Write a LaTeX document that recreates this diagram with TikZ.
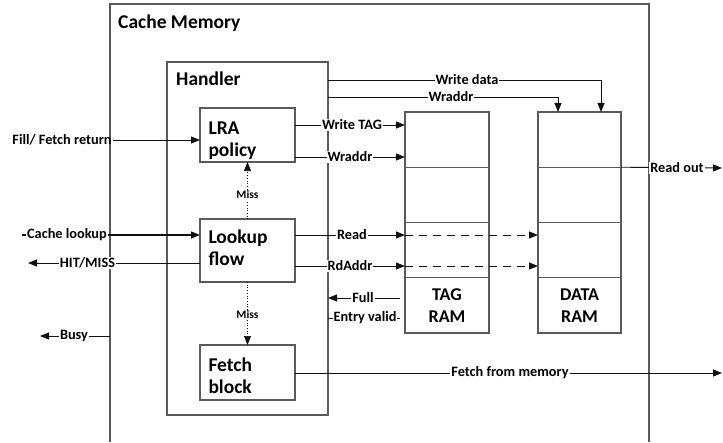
\documentclass[tikz,border=0pt]{standalone}
\usepackage{fontspec}
\setmainfont{Carlito}
\usetikzlibrary{arrows.meta}
\definecolor{boxgray}{HTML}{5A5A5A}
\definecolor{inkc}{HTML}{111111}
\begin{document}
\begin{tikzpicture}[x=1pt,y=-1pt,
  box/.style={draw=boxgray, line width=1.1pt, inner sep=0pt, outer sep=0pt},
  tcell/.style={box, minimum width=84pt, minimum height=55.25pt},
  dcell/.style={box, minimum width=83pt, minimum height=55.25pt},
  blk/.style={box, minimum width=95pt},
  btxt/.style={inner sep=0pt, text width=78pt, align=left,
              font=\fontsize{19.5}{22}\selectfont\bfseries},
  ttl/.style={font=\fontsize{19.5}{22}\selectfont\bfseries, anchor=base west, inner sep=0pt},
  lbl/.style={font=\fontsize{14.3}{16}\selectfont\bfseries, fill=white, inner sep=1pt},
  mlbl/.style={font=\fontsize{11.5}{13}\selectfont\bfseries, fill=white, inner sep=1pt},
  wire/.style={draw=inkc, line width=0.9pt},
  arr/.style={wire, -{Triangle[length=9pt,width=7pt]}},
  darr/.style={arr, dash pattern=on 8pt off 6pt},
  marr/.style={draw=inkc, line width=0.7pt, dotted, -{Triangle[length=9pt,width=7pt]}}
]
\useasboundingbox (0,0) rectangle (723,442);

% outer cache memory frame (open at the bottom)
\coordinate (cmTL) at (110,4);
\coordinate (cmTR) at (649,4);
\draw[box] (110,442) -- (cmTL) -- (cmTR) -- (649,442);
\node[ttl] (cmt) at (118,28.5) {Cache Memory};

% handler and its blocks
\node[box, minimum width=161pt, minimum height=353pt] (handler) at (247.5,238.5) {};
\node[ttl] (ht) at (176,85) {Handler};
\node[blk, minimum height=54pt] (lra) at (247.5,135) {};
\node[blk, minimum height=63pt] (lookup) at (247.5,250.5) {};
\node[blk, minimum height=55pt] (fetch) at (247.5,372.5) {};
\node[btxt] (lraT) at ([yshift=-6pt]lra.center) {LRA\\policy};
\node[btxt] (lookupT) at ([yshift=3pt]lookup.center) {Lookup\\flow};
\node[btxt] (fetchT) at ([yshift=-3pt]fetch.center) {Fetch\\block};

% TAG RAM column
\node[tcell] (tag1) at (447,139.6) {};
\node[tcell] (tag2) at (447,194.9) {};
\node[tcell] (tag3) at (447,250.1) {};
\node[tcell, align=center, font=\fontsize{18}{22}\selectfont\bfseries] (tag4) at (447,305.4) {TAG\\RAM};

% DATA RAM column
\node[dcell] (data1) at (579.5,139.6) {};
\node[dcell] (data2) at (579.5,194.9) {};
\node[dcell] (data3) at (579.5,250.1) {};
\node[dcell, align=center, font=\fontsize{18}{22}\selectfont\bfseries] (data4) at (579.5,305.4) {DATA\\RAM};

% signal levels
\coordinate (ywd) at (0,80);
\coordinate (ywa) at (0,97);
\coordinate (ywt) at (0,125);
\coordinate (ywr) at (0,157);
\coordinate (yrd) at (0,235);
\coordinate (yra) at (0,266);
\coordinate (yfu) at (0,298);
\coordinate (yev) at (0,318);
\coordinate (yfm) at (0,373);

% free ends
\coordinate (cl0) at (22,235);
\coordinate (hm) at (28,263);
\coordinate (busy) at (40,336);
\coordinate (rout) at (722,168);
\coordinate (ffm) at (722,373);

% external inputs / outputs
\node[lbl, fill=none] (ffr) at (62,140) {Fill/ Fetch return};
\draw[arr] (ffr.east) -- (lra.west |- ffr.east);
\draw[arr, line width=1.4pt] (cl0) -- (lookup.west |- cl0);
\draw[arr] (lookup.west |- hm) -- (hm);
\draw[arr] (cmTL |- busy) -- (busy);

% miss paths
\draw[marr] (lookup.north) -- (lra.south);
\draw[marr] (lookup.south) -- (fetch.north);

% writes into the RAMs
\draw[arr] (handler.east |- ywd) -| ([xshift=21.5pt]data1.north);
\draw[arr] (handler.east |- ywa) -| ([xshift=-21.5pt]data1.north);
\draw[arr] (lra.east |- ywt) -- (tag1.west |- ywt);
\draw[arr] (lra.east |- ywr) -- (tag1.west |- ywr);

% reads
\draw[arr] (lookup.east |- yrd) -- (tag3.west |- yrd);
\draw[darr] (tag3.west |- yrd) -- (data3.west |- yrd);
\draw[arr] (lookup.east |- yra) -- (tag3.west |- yra);
\draw[darr] (tag3.west |- yra) -- (data3.west |- yra);

% status back to the handler
\draw[arr] ([xshift=-5pt]tag4.west |- yfu) -- (handler.east |- yfu);
\draw[wire] ([xshift=-5pt]tag4.west |- yev) -- (handler.east |- yev);

% outputs on the right
\draw[arr] (data1.south east) -- (rout);
\draw[arr] (fetch.east |- yfm) -- (ffm);

% wire labels
\node[lbl] (lcl) at (67,235) {Cache lookup};
\node[lbl] (lhm) at (87.5,263) {HIT/MISS};
\node[lbl] (lbu) at (74,336) {Busy};
\node[mlbl] (lm1) at (247.5,195) {Miss};
\node[mlbl] (lm2) at (247.5,315) {Miss};
\node[lbl] (lwd) at (467,80) {Write data};
\node[lbl] (lwa) at (451,97) {Wraddr};
\node[lbl] (lwt) at (352,125) {Write TAG};
\node[lbl] (lwr) at (350,157) {Wraddr};
\node[lbl] (lrd) at (352,235) {Read};
\node[lbl] (lra2) at (350,266) {RdAddr};
\node[lbl] (lfu) at (363,298) {Full};
\node[lbl] (lev) at (365,318) {Entry valid};
\node[lbl] (lro) at (677,168) {Read out};
\node[lbl] (lfm) at (510,373) {Fetch from memory};
\end{tikzpicture}
\end{document}
